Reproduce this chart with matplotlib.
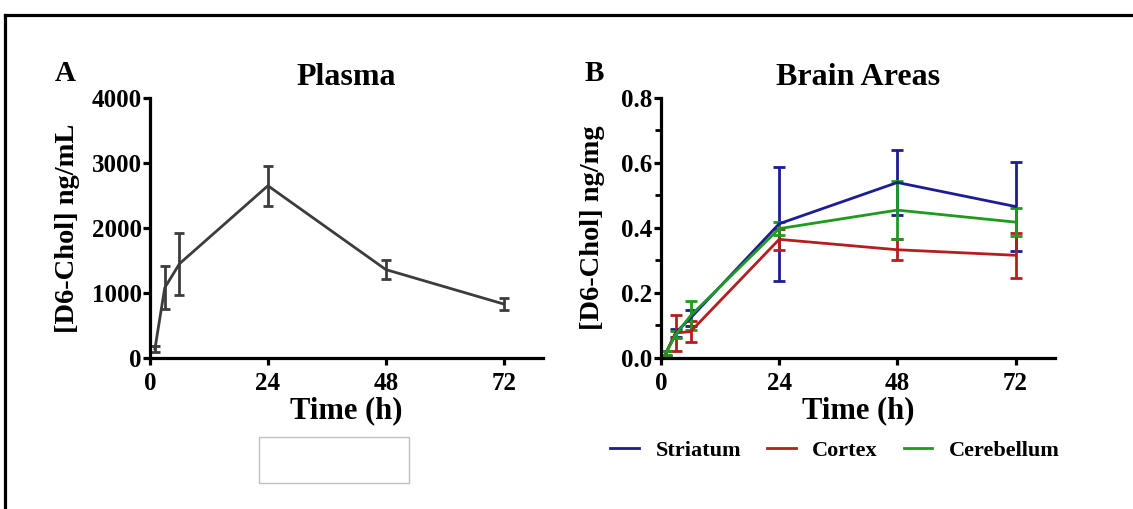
import matplotlib
matplotlib.use("Agg")
import matplotlib.pyplot as plt
from matplotlib.lines import Line2D
from matplotlib.patches import Rectangle
from matplotlib.ticker import MultipleLocator

plt.rcParams['font.family'] = ['Liberation Serif', 'DejaVu Serif']
plt.rcParams['font.weight'] = 'bold'

# data
time_h = [1, 3, 6, 24, 48, 72]

plasma_mean = [140, 1080, 1450, 2650, 1360, 830]
plasma_sd = [50, 330, 480, 305, 150, 90]

striatum_mean = [0.015, 0.078, 0.123, 0.413, 0.540, 0.466]
striatum_sd = [0.008, 0.012, 0.025, 0.176, 0.100, 0.137]
cortex_mean = [0.015, 0.077, 0.081, 0.365, 0.333, 0.316]
cortex_sd = [0.006, 0.055, 0.033, 0.033, 0.033, 0.070]
cerebellum_mean = [0.015, 0.072, 0.130, 0.398, 0.455, 0.418]
cerebellum_sd = [0.006, 0.010, 0.044, 0.020, 0.089, 0.043]

brain_series = [
    ("Striatum", striatum_mean, striatum_sd, "#1c1c96"),
    ("Cortex", cortex_mean, cortex_sd, "#b41e1e"),
    ("Cerebellum", cerebellum_mean, cerebellum_sd, "#1f9a1f"),
]

x_ticks = [0, 24, 48, 72]

fig = plt.figure(figsize=(11.33, 5.09), dpi=100)
ax_a = fig.add_axes([0.1324, 0.2967, 0.3469, 0.5108])
ax_b = fig.add_axes([0.5834, 0.2967, 0.3477, 0.5108])


def style_axis(ax):
    for side in ("top", "right"):
        ax.spines[side].set_visible(False)
    for side in ("left", "bottom"):
        ax.spines[side].set_linewidth(2.3)
    ax.tick_params(which="major", direction="out", length=5, width=2.3,
                   labelsize=18, pad=1)
    ax.tick_params(axis="x", which="major", pad=5)
    ax.tick_params(which="minor", direction="out", length=4, width=2.0)
    ax.set_xlim(0, 80)
    ax.set_xticks(x_ticks)
    ax.set_xlabel("Time (h)", fontsize=22, fontweight="bold", labelpad=1)
    for lbl in ax.get_xticklabels() + ax.get_yticklabels():
        lbl.set_fontweight("bold")


# Panel A - plasma
ax_a.errorbar(time_h, plasma_mean, yerr=plasma_sd, color="#3c3c3c", lw=2.0,
              elinewidth=2.0, capsize=3.5, capthick=2.0, clip_on=False)
ax_a.set_ylim(0, 4000)
ax_a.set_yticks([0, 1000, 2000, 3000, 4000])
style_axis(ax_a)
ax_a.set_ylabel("[D6-Chol] ng/mL", fontsize=20.5, fontweight="bold", labelpad=8)
ax_a.set_title("Plasma", fontsize=23, fontweight="bold", pad=9)

# Panel B - brain areas
handles = []
for name, mean, sd, col in brain_series:
    eb = ax_b.errorbar(time_h, mean, yerr=sd, color=col, lw=2.0,
                       elinewidth=2.0, capsize=4.5, capthick=2.0,
                       clip_on=False, label=name)
    handles.append(eb.lines[0])
ax_b.set_ylim(0, 0.8)
ax_b.set_yticks([0.0, 0.2, 0.4, 0.6, 0.8])
ax_b.yaxis.set_minor_locator(MultipleLocator(0.1))
ax_b.set_yticklabels(["0.0", "0.2", "0.4", "0.6", "0.8"])
style_axis(ax_b)
ax_b.set_ylabel("[D6-Chol] ng/mg", fontsize=20.5, fontweight="bold", labelpad=12)
ax_b.set_title("Brain Areas", fontsize=23, fontweight="bold", pad=9)

fig.legend(handles=handles, labels=[s[0] for s in brain_series],
           loc="center", bbox_to_anchor=(0.737, 0.114), ncol=3, frameon=False,
           handlelength=1.3, handletextpad=0.75, columnspacing=1.15,
           prop={"size": 16, "weight": "bold"})

# panel letters
fig.text(0.048, 0.855, "A", fontsize=21, fontweight="bold", ha="left", va="center")
fig.text(0.516, 0.855, "B", fontsize=21, fontweight="bold", ha="left", va="center")

# empty box under panel A
fig.add_artist(Rectangle((259 / 1133, 1 - 483 / 509), 150 / 1133, 46 / 509,
                         transform=fig.transFigure, fill=False,
                         edgecolor="#c0c0c0", lw=1.0))

# outer frame (top and left only)
fig.add_artist(Line2D([5 / 1133, 1.0], [1 - 14.5 / 509, 1 - 14.5 / 509],
                      transform=fig.transFigure, color="black", lw=2.3))
fig.add_artist(Line2D([5 / 1133, 5 / 1133], [0.0, 1 - 14.5 / 509],
                      transform=fig.transFigure, color="black", lw=2.3))

fig.savefig("out.png", dpi=100)
